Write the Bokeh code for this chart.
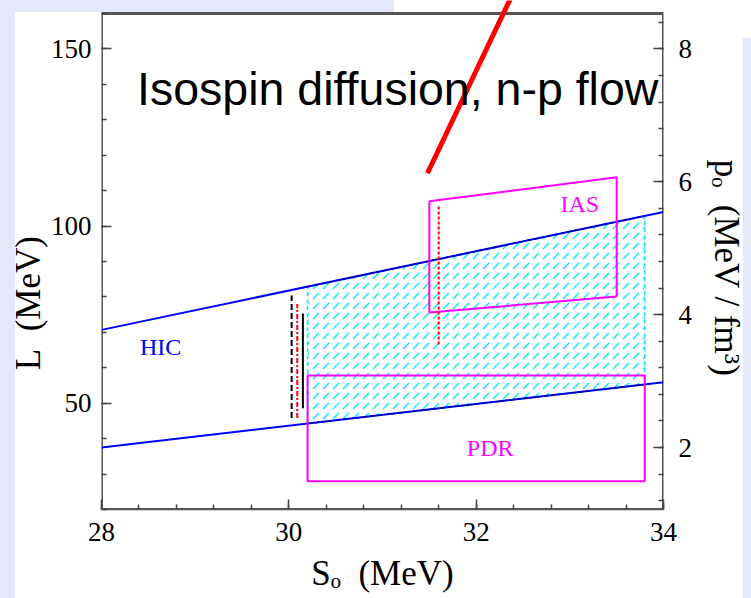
import numpy as np
from bokeh.plotting import figure
from bokeh.models import (Range1d, LinearAxis, SingleIntervalTicker, Label)
from bokeh.embed import file_html
from bokeh.resources import INLINE

# ---------------- data ----------------
S_RANGE = [28.0, 34.0]            # symmetry energy S0 (MeV)
L_RANGE = [20.0, 160.0]           # slope L (MeV)
RHO0 = 0.16                       # fm^-3, p0 = rho0 * L / 3

HIC_S = [28.0, 34.0]
HIC_UPPER_L = [70.7, 104.0]
HIC_LOWER_L = [37.5, 55.9]
HIC_BAND_S = [30.2, 33.8]

PDR_S = [30.2, 33.8]
PDR_L = [28.0, 57.8]

IAS_S = [31.5, 33.5]
IAS_TOP_L = [107.0, 113.8]
IAS_BOTTOM_L = [75.6, 80.1]
IAS_MARK_S = [31.6, 31.6]
IAS_MARK_L = [66.6, 106.0]

LIM_BLACK_DASH_S = [30.03, 30.03]
LIM_BLACK_DASH_L = [45.8, 80.4]
LIM_RED_S = [30.09, 30.09]
LIM_RED_L = [45.8, 78.0]
LIM_BLACK_S = [30.15, 30.15]
LIM_BLACK_L = [48.6, 75.3]

FLOW_S = [31.48, 32.47]
FLOW_L = [114.9, 170.0]

S_TICK_INTERVAL = 2
L_TICK_INTERVAL = 50
P_TICK_INTERVAL = 2

NB = "\u00a0"
X_LABEL = "Sₒ" + NB + " (MeV)"
Y_LABEL = "L" + NB + " (MeV)" + NB * 11
P_LABEL = NB * 3 + "pₒ" + NB + " (MeV / fm³)"

# ---------------- layout / style ----------------
W, H = 751, 598
BORDER_L, BORDER_R, BORDER_B = 101, 88, 89
TOP_GAP_PX = 13        # white gap between canvas top and the plot box
LAV = "#e4e8fa"
AXIS_COL = "#555555"
TICK_COL = "#444444"
SERIF = "Liberation Serif"

frame_h = H - BORDER_B
px_per_L = (frame_h - TOP_GAP_PX) / (L_RANGE[1] - L_RANGE[0])
L_TOP = L_RANGE[1] + TOP_GAP_PX / px_per_L

slide_bg = ", ".join([
    f"linear-gradient({LAV}, {LAV}) 0px 0px / 15px 100% no-repeat",
    f"linear-gradient({LAV}, {LAV}) 0px 0px / 394px 12px no-repeat",
    f"linear-gradient({LAV}, {LAV}) 743px 38px / 8px 560px no-repeat",
    "white",
])

p = figure(width=W, height=H,
           x_range=Range1d(*S_RANGE), y_range=Range1d(L_RANGE[0], L_TOP),
           output_backend="svg", toolbar_location=None,
           min_border_left=BORDER_L, min_border_right=BORDER_R,
           min_border_top=0, min_border_bottom=BORDER_B,
           border_fill_alpha=0, background_fill_color=None,
           outline_line_color=None,
           styles={"background": slide_bg})
p.grid.visible = False
p.extra_y_ranges = {"p": Range1d(L_RANGE[0] * RHO0 / 3, L_TOP * RHO0 / 3)}

def style(ax):
    ax.axis_line_color = AXIS_COL
    ax.axis_line_width = 1.5
    ax.major_tick_line_color = TICK_COL
    ax.minor_tick_line_color = TICK_COL
    ax.major_tick_line_width = 1.5
    ax.minor_tick_line_width = 1.5
    ax.major_tick_in = 10
    ax.major_tick_out = 0
    ax.minor_tick_in = 5
    ax.minor_tick_out = 0
    ax.major_label_text_font = SERIF
    ax.major_label_text_font_size = "27px"
    ax.major_label_text_color = "black"
    ax.axis_label_text_font = SERIF
    ax.axis_label_text_font_size = "35px"
    ax.axis_label_text_font_style = "normal"
    ax.axis_label_text_color = "black"

xa = p.xaxis[0]
xa.ticker = SingleIntervalTicker(interval=S_TICK_INTERVAL, num_minor_ticks=5)
xa.axis_label = X_LABEL
style(xa)
xa.major_label_standoff = 13
xa.axis_label_standoff = 10

ya = p.yaxis[0]
ya.ticker = SingleIntervalTicker(interval=L_TICK_INTERVAL, num_minor_ticks=5)
ya.axis_label = Y_LABEL
style(ya)
ya.axis_line_color = None
ya.major_label_standoff = 10
ya.axis_label_standoff = 0

ra = LinearAxis(y_range_name="p",
                ticker=SingleIntervalTicker(interval=P_TICK_INTERVAL, num_minor_ticks=5),
                axis_label=P_LABEL)
style(ra)
ra.axis_line_color = None
ra.major_label_standoff = 15
ra.axis_label_standoff = 12
p.add_layout(ra, "right")

# plot box
p.quad(left=S_RANGE[0], right=S_RANGE[1], bottom=L_RANGE[0], top=L_RANGE[1],
       fill_color=None, line_color=AXIS_COL, line_width=3)

# HIC band (hatched)
upper = np.interp(HIC_BAND_S, HIC_S, HIC_UPPER_L)
lower = np.interp(HIC_BAND_S, HIC_S, HIC_LOWER_L)
p.patch([HIC_BAND_S[0], HIC_BAND_S[1], HIC_BAND_S[1], HIC_BAND_S[0]],
        [upper[0], upper[1], lower[1], lower[0]],
        fill_color=None, hatch_pattern="right_diagonal_dash",
        hatch_color="#00e8ff", hatch_scale=10, hatch_weight=1.3,
        line_color="#00e8ff", line_dash="4 3", line_width=1.5)

# HIC boundary lines
p.line(HIC_S, HIC_UPPER_L, line_color="#0000ff", line_width=2)
p.line(HIC_S, HIC_LOWER_L, line_color="#0000ff", line_width=2)
p.line(HIC_BAND_S, list(upper), line_color="#000080", line_width=1.2, line_dash="4 3")
p.line(HIC_BAND_S, list(lower), line_color="#000080", line_width=1.2, line_dash="4 3")

# PDR box
p.line([PDR_S[0], PDR_S[1], PDR_S[1], PDR_S[0], PDR_S[0]],
       [PDR_L[1], PDR_L[1], PDR_L[0], PDR_L[0], PDR_L[1]],
       line_color="#ff00ff", line_width=2)

# IAS box
p.line([IAS_S[0], IAS_S[1], IAS_S[1], IAS_S[0], IAS_S[0]],
       [IAS_TOP_L[0], IAS_TOP_L[1], IAS_BOTTOM_L[1], IAS_BOTTOM_L[0], IAS_TOP_L[0]],
       line_color="#ff00ff", line_width=2)
p.line(IAS_MARK_S, IAS_MARK_L, line_color="red", line_width=2, line_dash="3 2")

# vertical limits near S0 = 30
p.line(LIM_BLACK_DASH_S, LIM_BLACK_DASH_L, line_color="black", line_width=2, line_dash="6 3")
p.line(LIM_RED_S, LIM_RED_L, line_color="red", line_width=2, line_dash="5 2 2 2")
p.line(LIM_BLACK_S, LIM_BLACK_L, line_color="black", line_width=2)

# thick red flow line (reaches the top of the slide)
p.line(FLOW_S, FLOW_L, line_color="red", line_width=5)

# labels
p.add_layout(Label(x=28.41, y=62.1, text="HIC", text_font=SERIF,
                   text_font_size="24px", text_color="#0000ff"))
p.add_layout(Label(x=32.9, y=102.7, text="IAS", text_font=SERIF,
                   text_font_size="24px", text_color="#ff00ff"))
p.add_layout(Label(x=31.9, y=33.8, text="PDR", text_font=SERIF,
                   text_font_size="24px", text_color="#ff00ff"))
p.add_layout(Label(x=28.38, y=131.3, text="Isospin diffusion, n-p flow",
                   text_font="Liberation Sans", text_font_size="46.5px",
                   text_color="black"))

open("out.html", "w").write(file_html(p, INLINE))
